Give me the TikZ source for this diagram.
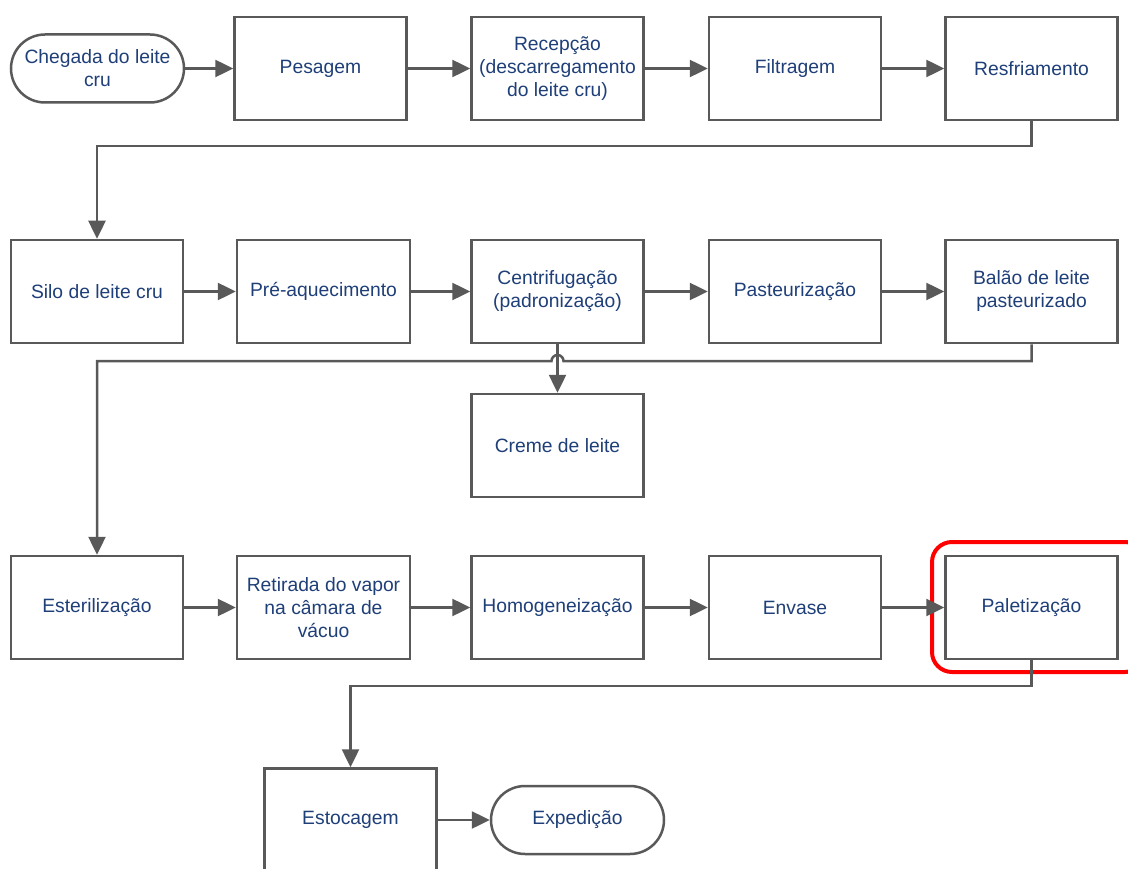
\documentclass[tikz,border=0pt]{standalone}
\usepackage{fontspec}
\setmainfont{Liberation Sans}
\usetikzlibrary{arrows.meta}
\definecolor{txtblue}{HTML}{1F3F78}
\definecolor{linegray}{HTML}{595959}
\begin{document}
\begin{tikzpicture}[x=1pt,y=-1pt,
  every node/.style={font=\fontsize{19.3}{23}\selectfont, text=txtblue, align=center},
  procbox/.style={draw=linegray, line width=2.5pt, fill=white, minimum width=172pt, minimum height=103pt, inner sep=0pt},
  termbox/.style={draw=linegray, line width=2.5pt, fill=white, rounded corners=34pt, minimum width=173pt, minimum height=68pt, inner sep=0pt},
  flow/.style={draw=linegray, line width=2.5pt, -{Triangle[length=18pt,width=17pt]}},
  hilite/.style={draw=red, line width=4pt, rounded corners=20pt}]
\useasboundingbox (0,0) rectangle (1128,869);
\fill[white] (0,0) rectangle (1128,869);

% first row
\node[termbox] (chegada) at (97.5,68.5) {Chegada do leite\\cru};
\node[procbox] (pesagem) at (320.5,68.5) {Pesagem};
\node[procbox] (recepcao) at (557.5,68.5) {Recepção\\(descarregamento\\do leite cru)};
\node[procbox] (filtragem) at (795,68.5) {Filtragem};
\node[procbox] (resfr) at (1031.5,68.5) {Resfriamento};

% second row
\node[procbox] (silo) at (97,291.5) {Silo de leite cru};
\node[procbox, minimum width=173pt] (preaq) at (323.5,291.5) {Pré-aquecimento};
\node[procbox] (centri) at (557.5,291.5) {Centrifugação\\(padronização)};
\node[procbox] (pasteur) at (795,291.5) {Pasteurização};
\node[procbox] (balao) at (1031.5,291.5) {Balão de leite\\pasteurizado};
\node[procbox] (creme) at (557.5,445.5) {Creme de leite};

% third row
\node[procbox] (ester) at (97,607.5) {Esterilização};
\node[procbox, minimum width=173pt] (retir) at (323.5,607.5) {Retirada do vapor\\na câmara de\\vácuo};
\node[procbox] (homog) at (557.5,607.5) {Homogeneização};
\node[procbox] (envase) at (795,607.5) {Envase};
\node[procbox] (palet) at (1031.5,607.5) {Paletização};

% last row
\node[procbox] (estoc) at (350.5,820) {Estocagem};
\node[termbox] (exped) at (577.5,820) {Expedição};

% highlight around the palletizing step
\draw[hilite] (932,542) rectangle (1145,672);

% bus lines between rows
\coordinate (busA) at (97,146);
\coordinate (busB) at (557.5,361);
\coordinate (busC) at (350.5,686);

% connectors
\draw[flow] (chegada) -- (pesagem);
\draw[flow] (pesagem) -- (recepcao);
\draw[flow] (recepcao) -- (filtragem);
\draw[flow] (filtragem) -- (resfr);
\draw[flow] (resfr.south) |- (busA) -- (silo.north);

\draw[flow] (silo) -- (preaq);
\draw[flow] (preaq) -- (centri);
\draw[flow] (centri) -- (pasteur);
\draw[flow] (pasteur) -- (balao);
\draw[flow] (balao.south) |- ([xshift=6pt]busB) arc[start angle=0, end angle=180, radius=6pt] -| (ester.north);
\draw[flow] (centri.south) -- (creme.north);

\draw[flow] (ester) -- (retir);
\draw[flow] (retir) -- (homog);
\draw[flow] (homog) -- (envase);
\draw[flow] (envase) -- (palet);
\draw[flow] (palet.south) |- (busC) -- (estoc.north);

\draw[flow] (estoc) -- (exped);
\end{tikzpicture}
\end{document}
